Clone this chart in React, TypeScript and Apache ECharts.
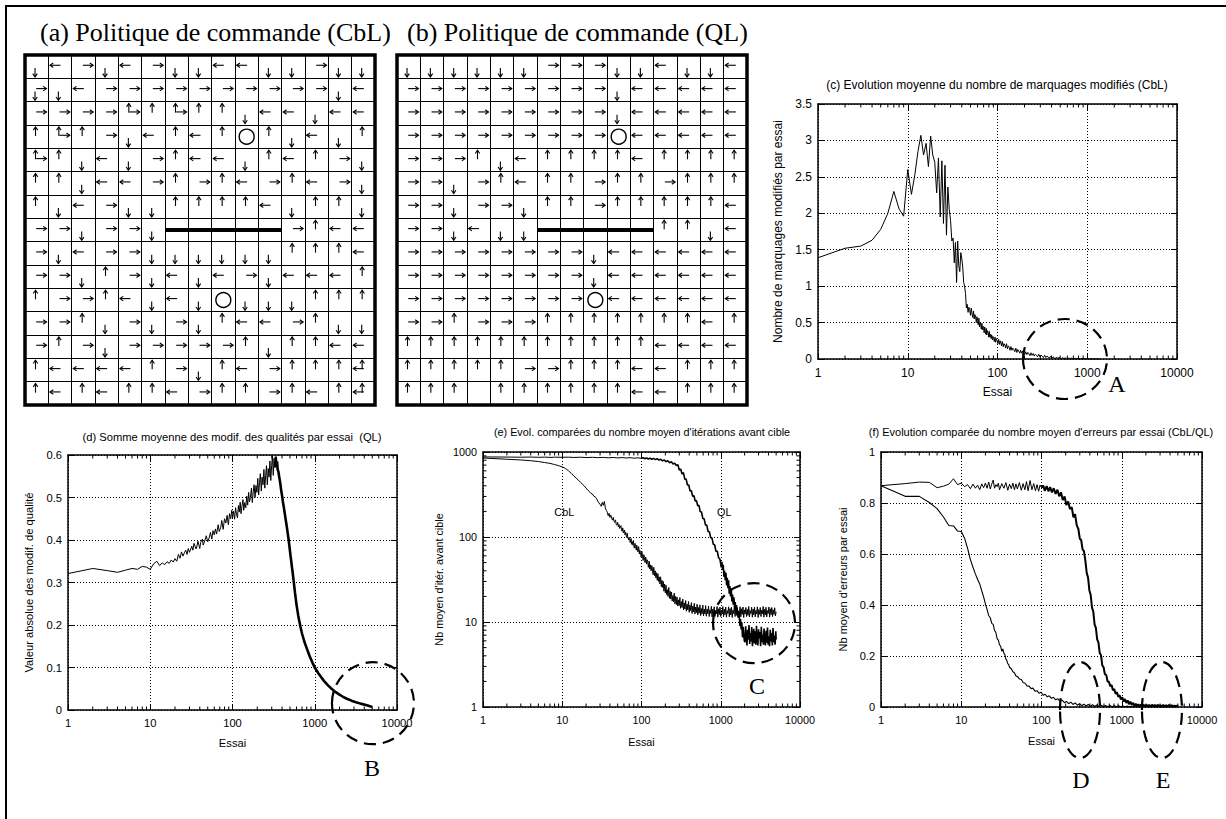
import React, { useEffect, useRef } from "react";
import * as echarts from "echarts";

// ---------------- DATA ----------------
// Grid worlds (15 x 15). U up, D down, L left, R right, O target, "-" wall cell, "." empty
const GRID_A_ROWS = [
  "D L R D L R D D L L D D R D D",
  "DR D L R R R R R R R R R R D L",
  "R R R R UR U UR U U D L L D L L",
  "U UR U R D L U L U O U D L D U",
  "UR U D L D R U L L D U L U R D",
  "U U D L L R U R U L R U L R D",
  "U D L R D D U U U U L D U U D",
  "R R D R R D - - - - - R U L L",
  "R D L R R D D D D D D U U U L",
  "R R D U R D L D L R D L L L U",
  "U R R U L D L D O D D D U U U",
  "R R U D R D R D U L L R U D D",
  "R U R D R R R R R U D U U L L",
  "U L L L L U R D U L R U U U UL",
  "U L U L U U L R U U R U L U UL",
];
const GRID_B_ROWS = [
  "D D D D D D R R R D D L D D L",
  "R R R R R R R R R D L L L L L",
  "R R R R R R R R R D L L L L L",
  "R R R R R R R R R O L L L L L",
  "R R R U D L U U U U L U U U U",
  "R R D R U L U U R U U R U U U",
  "R R D R R D U U R U U U U U L",
  "R R D L D D - - - - - U U D L",
  "R R R R R R R R D L L L L L L",
  "R R R R R R R R D L L L L L L",
  "R R R R R R R R O L L L L L L",
  "R R U R R R U U U U U U U L U",
  "U U U U U U U U U U U L L L L",
  "U U U U U R R U U U L L U U U",
  "U U U . U U U U U U L L U U U",
];
const WALL = [[6, 7.5], [11, 7.5]];

const LOG_MINOR_X = [2, 3, 4, 5, 6, 7, 8, 9, 20, 30, 40, 50, 60, 70, 80, 90, 200, 300, 400, 500, 600, 700, 800, 900, 2000, 3000, 4000, 5000, 6000, 7000, 8000, 9000];
const LOG_MINOR_Y_E = [2, 3, 4, 5, 6, 7, 8, 9, 20, 30, 40, 50, 60, 70, 80, 90, 200, 300, 400, 500, 600, 700, 800, 900];

// (c) CbL: nombre de marquages modifiés par essai
const C_CBL = [[1,1.39],[2,1.52],[3,1.55],[4,1.63],[5,1.78],[6,2.0],[7,2.3],[8,2.06],[9,1.96],[10,2.6],[11,2.26],[12,2.53],[13,2.85],[14,3.07],[15,2.8],[16,2.96],[17,2.64],[18,3.06],[19,2.8],[20,2.7],[21,2.28],[22,2.76],[23,1.95],[24,2.72],[25,1.86],[26,2.66],[27,1.7],[28,2.36],[29,2.05],[30,1.9],[31,1.62],[32,1.66],[33,1.32],[34,1.6],[35,1.05],[36,1.62],[37,1.28],[38,1.2],[39,1.46],[40,1.38],[41,1.26],[42,1.05],[43,1.0],[44,0.9],[45,0.7],[46,0.75],[47,0.64],[48,0.71],[49,0.68],[50,0.6],[51,0.7],[52,0.62],[53,0.57],[54,0.66],[55,0.55],[56,0.61],[57,0.58],[58,0.5],[59,0.58],[60,0.53],[61,0.47],[62,0.56],[63,0.44],[64,0.5],[65,0.47],[66,0.41],[67,0.49],[68,0.4],[69,0.45],[70,0.43],[71,0.36],[72,0.44],[73,0.38],[74,0.34],[75,0.42],[76,0.33],[77,0.39],[79,0.35],[80,0.3],[81,0.38],[82,0.3],[84,0.34],[85,0.28],[86,0.33],[88,0.26],[89,0.31],[91,0.29],[92,0.24],[94,0.3],[95,0.23],[97,0.28],[99,0.25],[101,0.21],[103,0.27],[105,0.2],[107,0.25],[109,0.22],[111,0.18],[113,0.24],[116,0.17],[118,0.21],[121,0.19],[123,0.15],[126,0.21],[129,0.14],[132,0.18],[135,0.16],[138,0.12],[141,0.17],[145,0.12],[148,0.15],[152,0.13],[156,0.1],[160,0.15],[164,0.09],[168,0.13],[172,0.11],[177,0.08],[181,0.12],[186,0.08],[191,0.11],[196,0.09],[201,0.06],[206,0.1],[212,0.06],[218,0.09],[224,0.07],[230,0.045],[236,0.085],[243,0.05],[250,0.075],[257,0.04],[264,0.065],[272,0.05],[280,0.03],[288,0.065],[297,0.03],[306,0.055],[315,0.035],[325,0.02],[335,0.05],[345,0.02],[356,0.04],[367,0.025],[378,0.012],[390,0.038],[402,0.012],[415,0.03],[428,0.015],[441,0.006],[455,0.028],[470,0.008],[485,0.022],[500,0.01],[516,0.003],[533,0.02],[550,0.004],[568,0.016],[586,0.006],[605,0.002],[625,0.014],[645,0.003],[667,0.012],[689,0.004],[711,0.001],[735,0.01],[760,0.002],[785,0.008],[811,0.003],[838,0.001],[866,0.007],[895,0.002],[925,0.005],[957,0.001],[990,0.004],[1025,0.001],[1060,0.003],[1100,0],[1140,0.002],[1185,0],[1230,0.001],[1280,0],[1330,0.001],[1400,0]];

// (d) QL: somme moyenne des modif. des qualités par essai
const D_QL_THIN = [[1,0.321],[2,0.333],[3,0.328],[4,0.324],[5,0.329],[6,0.333],[7,0.331],[8,0.338],[9,0.336],[10,0.331],[11,0.344],[12,0.35],[13,0.34],[14,0.346],[15,0.342],[16,0.349],[17,0.345],[18,0.353],[19,0.348],[20,0.356],[21,0.35],[22,0.366],[23,0.357],[24,0.372],[25,0.362],[26,0.37],[27,0.376],[28,0.366],[29,0.38],[30,0.371],[32,0.385],[33,0.376],[34,0.392],[36,0.379],[37,0.386],[38,0.397],[40,0.38],[41,0.394],[43,0.402],[44,0.388],[46,0.398],[48,0.41],[50,0.396],[52,0.405],[54,0.418],[56,0.402],[58,0.422],[60,0.412],[62,0.426],[64,0.414],[67,0.436],[69,0.42],[72,0.43],[74,0.446],[77,0.425],[80,0.45],[83,0.44],[86,0.458],[89,0.436],[92,0.462],[95,0.45],[98,0.47],[100,0.452],[103,0.468],[106,0.449],[109,0.476],[112,0.46],[115,0.452],[118,0.481],[121,0.466],[124,0.489],[127,0.462],[130,0.478],[134,0.495],[137,0.47],[141,0.488],[145,0.476],[149,0.503],[153,0.482],[157,0.512],[161,0.49],[165,0.5],[170,0.522],[174,0.488],[179,0.515],[183,0.53],[188,0.5],[193,0.528],[198,0.512],[203,0.545],[208,0.506],[213,0.535],[218,0.556],[224,0.515],[229,0.548],[235,0.53],[241,0.566],[247,0.522],[253,0.552],[259,0.575],[265,0.53],[272,0.568],[278,0.548],[285,0.586],[292,0.54],[299,0.575],[306,0.598],[313,0.552],[320,0.592],[328,0.57],[335,0.596]];
const D_QL_DENSE = [[335,0.596],[342,0.572],[348,0.585],[354,0.566],[362,0.56],[370,0.548],[380,0.535],[390,0.518],[400,0.505],[410,0.49],[420,0.478],[430,0.465],[440,0.452],[450,0.44],[460,0.428],[470,0.415],[480,0.402],[490,0.388],[500,0.374],[510,0.36],[520,0.347],[530,0.334],[540,0.322],[555,0.302],[575,0.276],[600,0.248],[630,0.222],[670,0.196],[700,0.18],[750,0.16],[800,0.145],[870,0.126],[940,0.111],[1000,0.1],[1100,0.087],[1200,0.077],[1300,0.068],[1450,0.058],[1600,0.05],[1800,0.042],[2000,0.036],[2250,0.03],[2500,0.026],[2800,0.022],[3100,0.019],[3600,0.015],[4300,0.011],[5000,0.007]];

// (e) nombre moyen d'itérations avant cible
const E_CBL = [[1,850],[2,822],[3,806],[4,790],[5,772],[6,752],[7,735],[8,712],[9,690],[10,668],[11,640],[12,600],[13,560],[14,522],[15,492],[16,466],[17,440],[18,418],[19,398],[20,376],[21,356],[22,344],[23,326],[24,320],[25,302],[26,298],[27,284],[28,266],[29,252],[30,242],[31,230],[32,256],[33,236],[34,262],[35,220],[36,206],[37,196],[38,178],[39,190],[40,170],[41,181],[42,166],[43,158],[44,170],[45,152],[46,149],[47,159],[48,140],[49,138],[50,149],[51,132],[52,140],[53,126],[55,136],[56,121],[57,117],[58,128],[59,112],[61,121],[62,106],[63,114],[64,104],[65,99],[66,111],[67,101],[69,92],[70,99],[71,94],[72,86],[74,96],[75,82],[77,88],[78,80],[79,91],[81,74],[83,84],[84,79],[86,70],[87,80],[89,73],[90,67],[92,77],[94,63],[95,70],[97,66],[99,58],[101,68],[103,60],[105,53],[107,62],[109,57],[111,50],[113,58],[116,48],[118,54],[120,51],[122,44],[125,52],[127,42],[130,47],[132,40],[135,46],[137,43],[140,36],[143,44],[146,35],[149,40],[152,33],[155,38],[158,31],[161,37],[164,30],[167,34],[171,28],[174,34],[178,26],[181,31],[185,25.5],[188,30],[192,23],[196,28],[200,22],[204,27],[208,21],[212,24],[216,20],[221,25.5],[225,19],[230,23],[234,18.6],[239,22.5],[244,17.6],[249,20.5],[254,17.2],[259,21.8],[264,16.4],[270,20],[275,16],[281,19.6],[287,15.4],[293,18.2],[299,15.6],[305,19.4],[311,14.5],[318,17.4],[325,14.8],[332,18.6],[339,13.9],[346,16.8],[353,14.2],[361,17.9],[368,13.4],[376,16.2],[384,13.9],[392,17.4],[400,13],[408,15.8],[417,13.6],[426,16.9],[435,12.6],[444,15.4],[453,13.2],[463,16.6],[472,12.4],[482,15],[492,12.9],[503,16.2],[513,12.1],[524,14.8],[535,12.7],[546,15.9],[558,11.9],[569,14.4],[581,12.5],[594,15.8],[606,11.8],[619,14.2],[632,12.4],[645,15.6],[658,11.7],[672,14.1],[686,12.5],[701,15.4],[715,11.6],[730,13.9],[746,12.6],[761,15.3],[777,11.5],[794,14.2],[810,12.3],[827,15.1],[845,11.6],[862,13.7],[881,12.5],[899,15.2],[918,11.4],[938,14.3],[957,12.2],[978,15],[998,11.6],[1019,13.8],[1041,12.4],[1063,15.2],[1085,11.5],[1108,14.1],[1132,12.2],[1155,15],[1180,11.4],[1205,13.6],[1230,12.6],[1256,15.1],[1283,11.5],[1310,14.4],[1338,12.1],[1366,14.9],[1395,11.3],[1424,13.8],[1454,12.5],[1485,15.2],[1516,11.6],[1548,14.2],[1581,12.2],[1614,14.8],[1648,11.4],[1683,13.5],[1719,12.6],[1755,15.1],[1792,11.5],[1830,14.3],[1869,12.3],[1908,15],[1948,11.3],[1990,13.9],[2032,12.4],[2075,14.8],[2118,11.6],[2163,14.1],[2209,12],[2256,15.2],[2303,11.5],[2352,13.6],[2402,12.6],[2452,14.9],[2504,11.4],[2557,14.2],[2611,12.2],[2666,15],[2723,11.5],[2780,13.7],[2839,12.4],[2899,15.1],[2960,11.3],[3023,14],[3087,12.3],[3152,14.8],[3219,11.6],[3287,13.8],[3356,12.5],[3427,15.2],[3500,11.4],[3574,14.1],[3649,12.1],[3727,14.9],[3805,11.5],[3886,13.6],[3968,12.6],[4052,15],[4138,11.4],[4225,14.3],[4315,12.2],[4406,14.8],[4499,11.6],[4594,13.9],[4691,12.3],[4791,14.7],[4892,11.8],[5000,13.2]];
const E_QL_THIN = [[1,875],[2,872],[3,868],[4,872],[5,866],[6,870],[7,864],[8,869],[10,866],[12,870],[14,862],[17,868],[20,860],[24,866],[28,858],[33,864],[38,855],[44,862],[50,852],[57,860],[64,850],[72,858],[80,846],[90,854],[100,842]];
const E_QL_DENSE = [[100,842],[105,858],[110,834],[116,852],[122,828],[128,848],[135,822],[142,842],[150,814],[158,834],[166,802],[175,822],[184,788],[194,806],[204,770],[215,788],[226,748],[238,766],[250,724],[262,740],[275,694],[288,708],[300,612],[312,631],[325,552],[338,572],[352,479],[366,480],[380,409],[395,409],[410,348],[426,350],[442,302],[459,306],[476,265],[494,268],[512,233],[531,236],[551,198],[572,197],[594,165],[617,164],[641,139],[666,138],[692,116],[719,115],[747,98],[776,97],[806,82],[837,81],[870,68],[904,68],[940,57],[976,55],[1015,44],[1035,51],[1055,41],[1075,47],[1096,34],[1118,40],[1140,31],[1162,38],[1185,27],[1208,33],[1232,25],[1256,31],[1280,21.5],[1305,26.5],[1330,20],[1356,25],[1382,17.5],[1409,21],[1437,16],[1465,19.5],[1493,15],[1520,17.2],[1552,14.1],[1580,15.8],[1613,11.9],[1640,13.6],[1676,11.2],[1705,12.8],[1742,9],[1775,10.8],[1810,8.2],[1845,9.9],[1880,6.6],[1915,8.8],[1950,7.0],[1985,6.0],[2020,5.8],[2060,8.9],[2100,6.6],[2140,5.3],[2185,8.1],[2230,6.2],[2275,9.2],[2320,5.5],[2365,7.4],[2410,5.9],[2460,8.7],[2510,5.2],[2560,6.9],[2610,8.3],[2660,5.6],[2715,7.8],[2770,5.4],[2825,9.0],[2880,6.1],[2940,5.3],[3000,8.2],[3060,6.4],[3120,7.6],[3185,5.2],[3250,8.8],[3315,5.8],[3380,7.1],[3450,5.4],[3520,8.4],[3590,6.0],[3660,5.3],[3735,7.9],[3810,5.7],[3890,8.6],[3965,5.4],[4045,6.8],[4130,5.2],[4210,8.1],[4300,5.9],[4385,7.4],[4475,5.3],[4565,8.5],[4660,5.8],[4750,6.9],[4850,5.4],[4950,7.8],[5000,6.2]];
const E_CURVE_LABELS = ["CbL", "QL"];
const E_LABEL_POS = [[10.6, 195], [1109, 195]];

// (f) nombre moyen d'erreurs par essai
const F_CBL = [[1,0.868],[2,0.826],[3,0.826],[4,0.802],[5,0.778],[6,0.745],[7,0.712],[8,0.71],[9,0.69],[10,0.688],[10.5,0.675],[11,0.662],[12,0.622],[13,0.578],[14,0.548],[15,0.522],[16,0.5],[17,0.482],[18,0.456],[19,0.432],[20,0.404],[21,0.382],[22,0.358],[23,0.35],[24,0.328],[25,0.324],[26,0.3],[27,0.292],[28,0.268],[29,0.262],[30,0.244],[31,0.238],[32,0.218],[33,0.228],[34,0.21],[35,0.205],[36,0.188],[37,0.182],[38,0.17],[39,0.166],[40,0.156],[42,0.15],[44,0.138],[46,0.134],[48,0.122],[50,0.12],[53,0.11],[56,0.108],[59,0.096],[62,0.094],[66,0.083],[70,0.082],[74,0.072],[78,0.074],[83,0.062],[88,0.064],[93,0.054],[99,0.058],[105,0.046],[111,0.05],[118,0.04],[125,0.044],[133,0.034],[141,0.038],[150,0.028],[160,0.032],[170,0.022],[181,0.027],[193,0.017],[205,0.022],[218,0.013],[232,0.019],[247,0.01],[263,0.016],[280,0.007],[298,0.013],[317,0.005],[337,0.011],[359,0.004],[382,0.01],[406,0.003],[432,0.009],[460,0.002],[490,0.008],[520,0.002],[555,0.007],[590,0.001],[628,0.006],[668,0.001],[711,0.006],[757,0.001],[805,0.005],[857,0.001],[912,0.005],[970,0.001],[1032,0.004],[1100,0.001],[1170,0.004],[1245,0.001],[1325,0.003],[1410,0.001],[1500,0.003],[1600,0.001],[1700,0.003],[1810,0.001],[1930,0.003],[2050,0.001],[2180,0.003],[2320,0.001],[2470,0.003],[2630,0.001],[2800,0.003],[2980,0.001],[3170,0.003],[3370,0.001],[3590,0.003],[3820,0.001],[4060,0.003],[4320,0.001],[4600,0.003],[5000,0.001]];
const F_QL_THIN = [[1,0.868],[2,0.876],[3,0.882],[4,0.881],[5,0.86],[6,0.866],[7,0.874],[8,0.895],[9,0.872],[10,0.878],[11,0.864],[12,0.872],[13,0.856],[14,0.874],[15,0.858],[16,0.87],[17,0.852],[18,0.875],[19,0.86],[20,0.878],[21,0.858],[22,0.882],[23,0.855],[24,0.874],[25,0.89],[26,0.858],[27,0.872],[28,0.864],[29,0.878],[30,0.852],[32,0.876],[34,0.858],[36,0.88],[38,0.85],[40,0.874],[42,0.856],[44,0.878],[46,0.852],[48,0.875],[50,0.855],[53,0.88],[56,0.85],[59,0.876],[62,0.852],[65,0.884],[68,0.848],[72,0.888],[76,0.852],[80,0.876],[84,0.848],[88,0.872],[92,0.846],[96,0.87],[100,0.86]];
const F_QL_DENSE = [[100,0.86],[105,0.868],[110,0.848],[116,0.866],[122,0.846],[128,0.862],[135,0.842],[142,0.858],[150,0.836],[158,0.852],[166,0.826],[175,0.842],[184,0.812],[194,0.826],[204,0.792],[215,0.806],[226,0.776],[238,0.784],[250,0.744],[262,0.756],[275,0.712],[288,0.698],[300,0.66],[312,0.655],[325,0.618],[338,0.611],[352,0.574],[366,0.526],[380,0.508],[395,0.457],[410,0.44],[426,0.39],[442,0.374],[459,0.323],[476,0.31],[494,0.265],[512,0.253],[531,0.212],[551,0.204],[572,0.163],[594,0.156],[617,0.128],[641,0.126],[666,0.1],[692,0.099],[719,0.081],[747,0.086],[776,0.066],[806,0.071],[837,0.052],[870,0.058],[904,0.04],[940,0.046],[976,0.03],[1015,0.038],[1055,0.022],[1096,0.031],[1140,0.016],[1185,0.026],[1232,0.011],[1280,0.021],[1330,0.008],[1382,0.016],[1437,0.005],[1493,0.013],[1552,0.003],[1613,0.011],[1676,0.002],[1742,0.01],[1810,0.002],[1880,0.009],[1950,0.001],[2030,0.009],[2110,0.002],[2200,0.008],[2290,0.001],[2385,0.009],[2480,0.002],[2580,0.008],[2690,0.001],[2800,0.009],[2915,0.002],[3035,0.007],[3160,0.001],[3290,0.008],[3425,0.002],[3565,0.007],[3710,0.001],[3865,0.008],[4025,0.002],[4190,0.007],[4360,0.001],[4540,0.006],[4730,0.002],[4920,0.006],[5000,0.003]];

// Annotations (dashed ellipses, data-space centres)
const ANNOT_C = [[565, 0]];
const ANNOT_D = [[5100, 0.016]];
const ANNOT_E = [[2630, 9.7]];
const ANNOT_F = [[302, -0.012], [3170, -0.012]];
const ANNOT_LETTERS_C = ["A"];
const ANNOT_LETTERS_D = ["B"];
const ANNOT_LETTERS_E = ["C"];
const ANNOT_LETTERS_F = ["D", "E"];

// ---------------- LAYOUT / STYLE ----------------
const SANS = "'Liberation Sans', Arial, Helvetica, sans-serif";
const SERIF = "'Liberation Serif', 'Times New Roman', Times, serif";
const BLACK = "#000";

const L = {
  a: { left: 25, top: 55, width: 350, height: 350 },
  b: { left: 397, top: 55, width: 350, height: 350 },
  c: { left: 818, top: 104, width: 359, height: 255, fs: 12 },
  d: { left: 68, top: 455, width: 329, height: 255, fs: 11.2 },
  e: { left: 483, top: 452, width: 317, height: 255, fs: 10.8 },
  f: { left: 881, top: 452, width: 321, height: 255, fs: 11 },
};

function parseGrid(rows) {
  const items = [];
  rows.forEach((row, r) => {
    row.split(" ").forEach((tok, c) => {
      for (const ch of tok) {
        const k = "UDLRO".indexOf(ch);
        if (k >= 0) items.push([c, r, k]);
      }
    });
  });
  return items;
}

function renderArrow(params, api) {
  const c = api.value(0), r = api.value(1), k = api.value(2);
  const p0 = api.coord([c, r]);
  const p1 = api.coord([c + 1, r + 1]);
  const x0 = Math.min(p0[0], p1[0]);
  const y0 = Math.min(p0[1], p1[1]);
  const w = Math.abs(p1[0] - p0[0]);
  const h = Math.abs(p1[1] - p0[1]);
  if (k === 4) {
    return { type: "circle", shape: { cx: x0 + w / 2, cy: y0 + h / 2, r: w * 0.32 }, style: { fill: "#fff", stroke: BLACK, lineWidth: 1.4 } };
  }
  let a, b;
  if (k === 0) { a = [x0 + 0.45 * w, y0 + 0.47 * h]; b = [x0 + 0.45 * w, y0 + 0.08 * h]; }
  else if (k === 1) { a = [x0 + 0.43 * w, y0 + 0.56 * h]; b = [x0 + 0.43 * w, y0 + 0.94 * h]; }
  else if (k === 2) { a = [x0 + 0.52 * w, y0 + 0.44 * h]; b = [x0 + 0.07 * w, y0 + 0.44 * h]; }
  else { a = [x0 + 0.48 * w, y0 + 0.44 * h]; b = [x0 + 0.92 * w, y0 + 0.44 * h]; }
  const ang = Math.atan2(b[1] - a[1], b[0] - a[0]);
  const hl = 4, s = 0.6;
  const h1 = [b[0] - hl * Math.cos(ang - s), b[1] - hl * Math.sin(ang - s)];
  const h2 = [b[0] - hl * Math.cos(ang + s), b[1] - hl * Math.sin(ang + s)];
  const st = { stroke: BLACK, lineWidth: 1.1, fill: "none" };
  return {
    type: "group",
    children: [
      { type: "line", shape: { x1: a[0], y1: a[1], x2: b[0], y2: b[1] }, style: st },
      { type: "polyline", shape: { points: [h1, b, h2] }, style: st },
    ],
  };
}

function minorXSeries(xi, yi, ymin, ymax) {
  return {
    type: "custom", xAxisIndex: xi, yAxisIndex: yi, silent: true, z: 4,
    data: LOG_MINOR_X.map((v) => [v, ymin, ymax]),
    encode: { x: 0, y: 1 },
    renderItem: (params, api) => {
      const bt = api.coord([api.value(0), api.value(1)]);
      const tp = api.coord([api.value(0), api.value(2)]);
      const st = { stroke: BLACK, lineWidth: 1 };
      return {
        type: "group",
        children: [
          { type: "line", shape: { x1: bt[0], y1: bt[1], x2: bt[0], y2: bt[1] - 3.5 }, style: st },
          { type: "line", shape: { x1: tp[0], y1: tp[1], x2: tp[0], y2: tp[1] + 3.5 }, style: st },
        ],
      };
    },
  };
}

function minorYSeries(xi, yi, values, xmin, xmax) {
  return {
    type: "custom", xAxisIndex: xi, yAxisIndex: yi, silent: true, z: 4,
    data: values.map((v) => [xmin, v, xmax]),
    encode: { x: 0, y: 1 },
    renderItem: (params, api) => {
      const lf = api.coord([api.value(0), api.value(1)]);
      const rt = api.coord([api.value(2), api.value(1)]);
      const st = { stroke: BLACK, lineWidth: 1 };
      return {
        type: "group",
        children: [
          { type: "line", shape: { x1: lf[0], y1: lf[1], x2: lf[0] + 3.5, y2: lf[1] }, style: st },
          { type: "line", shape: { x1: rt[0], y1: rt[1], x2: rt[0] - 3.5, y2: rt[1] }, style: st },
        ],
      };
    },
  };
}

function annotSeries(xi, yi, centers, letters, rx, ry, ldx, ldy) {
  return {
    type: "custom", xAxisIndex: xi, yAxisIndex: yi, silent: true, z: 10, clip: false,
    data: centers, encode: { x: 0, y: 1 },
    renderItem: (params, api) => {
      const p = api.coord([api.value(0), api.value(1)]);
      return {
        type: "group",
        children: [
          { type: "ellipse", shape: { cx: p[0], cy: p[1], rx: rx, ry: ry }, style: { fill: "none", stroke: BLACK, lineWidth: 2.2, lineDash: [12, 7] } },
          { type: "text", x: p[0] + ldx, y: p[1] + ldy, style: { text: letters[params.dataIndex], fill: BLACK, font: `24px ${SERIF}`, textAlign: "center", textVerticalAlign: "middle", align: "center", verticalAlign: "middle" } },
        ],
      };
    },
  };
}

function labelSeries(xi, yi, pos, labels, fs) {
  return {
    type: "custom", xAxisIndex: xi, yAxisIndex: yi, silent: true, z: 10,
    data: pos, encode: { x: 0, y: 1 },
    renderItem: (params, api) => {
      const p = api.coord([api.value(0), api.value(1)]);
      return { type: "text", x: p[0], y: p[1], style: { text: labels[params.dataIndex], fill: BLACK, font: `${fs}px ${SANS}`, textAlign: "center", textVerticalAlign: "middle", align: "center", verticalAlign: "middle" } };
    },
  };
}

function lineSeries(xi, yi, data, width) {
  return {
    type: "line", xAxisIndex: xi, yAxisIndex: yi, data: data, symbol: "none", showSymbol: false,
    silent: true, z: 3, lineStyle: { color: BLACK, width: width }, emphasis: { disabled: true },
  };
}

const fmtInt = (v) => String(Math.round(v));

function worldAxis(gi, inverse) {
  return {
    gridIndex: gi, type: "value", min: 0, max: 15, interval: 1, inverse: inverse,
    axisLine: { show: false }, axisTick: { show: false }, axisLabel: { show: false },
    splitLine: { show: true, lineStyle: { color: BLACK, width: 1 } },
  };
}

function xPair(gi, fs, gap) {
  const base = { gridIndex: gi, type: "log", logBase: 10, min: 1, max: 10000 };
  const line = { show: true, onZero: false, lineStyle: { color: BLACK, width: 1.5 } };
  const tick = { show: true, inside: true, length: 6, lineStyle: { color: BLACK, width: 1 } };
  return [
    {
      ...base, position: "bottom", name: "Essai", nameLocation: "middle", nameGap: gap,
      nameTextStyle: { fontFamily: SANS, fontSize: fs, color: BLACK },
      axisLine: line, axisTick: tick,
      axisLabel: { show: true, margin: 7.5, fontFamily: SANS, fontSize: fs, color: BLACK, formatter: fmtInt },
      splitLine: { show: true, lineStyle: { color: BLACK, width: 1, type: [1, 2] } },
    },
    { ...base, position: "top", axisLine: line, axisTick: tick, axisLabel: { show: false }, splitLine: { show: false } },
  ];
}

function yPair(gi, cfg) {
  const base: any = { gridIndex: gi, type: cfg.type, min: cfg.min, max: cfg.max };
  if (cfg.interval) base.interval = cfg.interval;
  if (cfg.type === "log") base.logBase = 10;
  const line = { show: true, onZero: false, lineStyle: { color: BLACK, width: 1.5 } };
  const tick = { show: true, inside: true, length: 6, lineStyle: { color: BLACK, width: 1 } };
  const label: any = { show: true, margin: 6, fontFamily: SANS, fontSize: cfg.fs, color: BLACK };
  if (cfg.type === "log") label.formatter = fmtInt;
  return [
    {
      ...base, position: "left", name: cfg.name, nameLocation: "middle", nameGap: cfg.gap, nameRotate: 90,
      nameTextStyle: { fontFamily: SANS, fontSize: cfg.fs, color: BLACK },
      axisLine: line, axisTick: tick, axisLabel: label,
      splitLine: { show: true, lineStyle: { color: BLACK, width: 1, type: [1, 2] } },
    },
    { ...base, position: "right", axisLine: line, axisTick: tick, axisLabel: { show: false }, splitLine: { show: false } },
  ];
}

function chartTitle(text, cx, cy, fs) {
  return {
    text, left: cx, top: cy - fs / 2, textAlign: "center", padding: 0,
    textStyle: { fontFamily: SANS, fontSize: fs, fontWeight: "normal", color: BLACK },
  };
}

function buildOption() {
  const grids = [
    { left: L.a.left, top: L.a.top, width: L.a.width, height: L.a.height, show: true, borderColor: BLACK, borderWidth: 3.5 },
    { left: L.b.left, top: L.b.top, width: L.b.width, height: L.b.height, show: true, borderColor: BLACK, borderWidth: 3.5 },
    { left: L.c.left, top: L.c.top, width: L.c.width, height: L.c.height },
    { left: L.d.left, top: L.d.top, width: L.d.width, height: L.d.height },
    { left: L.e.left, top: L.e.top, width: L.e.width, height: L.e.height },
    { left: L.f.left, top: L.f.top, width: L.f.width, height: L.f.height },
  ];
  const xAxis = [
    worldAxis(0, false), worldAxis(1, false),
    ...xPair(2, L.c.fs, 27),
    ...xPair(3, L.d.fs, 27),
    ...xPair(4, L.e.fs, 29),
    ...xPair(5, L.f.fs, 28.5),
  ];
  const yAxis = [
    worldAxis(0, true), worldAxis(1, true),
    ...yPair(2, { type: "value", min: 0, max: 3.5, interval: 0.5, fs: L.c.fs, name: "Nombre de marquages modifiés par essai", gap: 34 }),
    ...yPair(3, { type: "value", min: 0, max: 0.6, interval: 0.1, fs: L.d.fs, name: "Valeur absolue des modif. de qualité", gap: 34 }),
    ...yPair(4, { type: "log", min: 1, max: 1000, fs: L.e.fs, name: "Nb moyen d'itér. avant cible", gap: 39 }),
    ...yPair(5, { type: "value", min: 0, max: 1, interval: 0.2, fs: L.f.fs, name: "Nb moyen d'erreurs par essai", gap: 32.5 }),
  ];
  const series = [
    { type: "custom", xAxisIndex: 0, yAxisIndex: 0, silent: true, z: 5, data: parseGrid(GRID_A_ROWS), encode: { x: 0, y: 1 }, renderItem: renderArrow },
    { type: "custom", xAxisIndex: 1, yAxisIndex: 1, silent: true, z: 5, data: parseGrid(GRID_B_ROWS), encode: { x: 0, y: 1 }, renderItem: renderArrow },
    lineSeries(0, 0, WALL, 4),
    lineSeries(1, 1, WALL, 4),
    // (c)
    lineSeries(2, 2, C_CBL, 1),
    minorXSeries(2, 2, 0, 3.5),
    annotSeries(2, 2, ANNOT_C, ANNOT_LETTERS_C, 42, 40, 52, 25),
    // (d)
    lineSeries(4, 4, D_QL_THIN, 1),
    lineSeries(4, 4, D_QL_DENSE, 2.6),
    minorXSeries(4, 4, 0, 0.6),
    annotSeries(4, 4, ANNOT_D, ANNOT_LETTERS_D, 41, 41, -1, 65),
    // (e)
    lineSeries(6, 6, E_CBL, 1),
    lineSeries(6, 6, E_QL_THIN, 1),
    lineSeries(6, 6, E_QL_DENSE, 1.6),
    minorXSeries(6, 6, 1, 1000),
    minorYSeries(6, 6, LOG_MINOR_Y_E, 1, 10000),
    labelSeries(6, 6, E_LABEL_POS, E_CURVE_LABELS, L.e.fs),
    annotSeries(6, 6, ANNOT_E, ANNOT_LETTERS_E, 41, 40, 3, 63),
    // (f)
    lineSeries(8, 8, F_CBL, 1.1),
    lineSeries(8, 8, F_QL_THIN, 1),
    lineSeries(8, 8, F_QL_DENSE, 2),
    minorXSeries(8, 8, 0, 1),
    annotSeries(8, 8, ANNOT_F, ANNOT_LETTERS_F, 20, 48, 1, 70),
  ];
  const title = [
    { text: "(a) Politique de commande (CbL)", left: 40, top: 19, padding: 0, textStyle: { fontFamily: SERIF, fontSize: 26, fontWeight: "normal", color: BLACK } },
    { text: "(b) Politique de commande (QL)", left: 407, top: 19, padding: 0, textStyle: { fontFamily: SERIF, fontSize: 26, fontWeight: "normal", color: BLACK } },
    chartTitle("(c) Evolution moyenne du nombre de marquages modifiés (CbL)", 997, 85, L.c.fs),
    chartTitle("(d) Somme moyenne des modif. des qualités par essai  (QL)", 232, 437, L.d.fs),
    chartTitle("(e) Evol. comparées du nombre moyen d'itérations avant cible", 642, 432, L.e.fs),
    chartTitle("(f) Evolution comparée du nombre moyen d'erreurs par essai (CbL/QL)", 1041, 432, L.f.fs),
  ];
  return {
    animation: false,
    backgroundColor: "#fff",
    title,
    grid: grids,
    xAxis,
    yAxis,
    series,
    graphic: [
      { type: "rect", silent: true, shape: { x: 6, y: 6, width: 1260, height: 860 }, style: { fill: "none", stroke: BLACK, lineWidth: 2 } },
    ],
  };
}

export default function App() {
  const ref = useRef(null);
  useEffect(() => {
    const chart = echarts.init(ref.current, undefined, { renderer: "svg" });
    chart.setOption(buildOption());
    return () => chart.dispose();
  }, []);
  return <div ref={ref} style={{ position: "fixed", left: 0, top: 0, width: 1226, height: 819, background: "#fff" }} />;
}
